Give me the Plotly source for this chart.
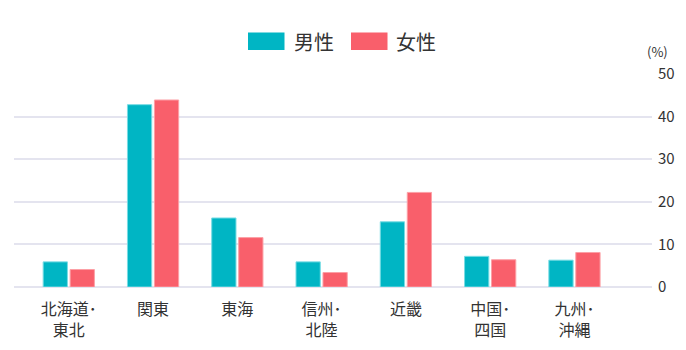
import plotly.graph_objects as go

# Regions (two-line labels use <br>)
regions = ["北海道･<br>東北", "関東", "東海", "信州･<br>北陸", "近畿", "中国･<br>四国", "九州･<br>沖縄"]
male = [5.9, 42.8, 16.2, 5.9, 15.3, 7.2, 6.3]
female = [4.1, 43.9, 11.6, 3.4, 22.2, 6.4, 8.1]
series_names = ["男性", "女性"]
y_ticks = [0, 10, 20, 30, 40, 50]

TEAL = "#00B5C4"
PINK = "#F95F6B"
TEXT = "#333333"
GRID = "#E4E4EF"
FONT = "Noto Sans CJK JP"

fig = go.Figure()
fig.add_trace(go.Bar(
    x=list(range(len(regions))), y=male, name=series_names[0],
    marker=dict(color=TEAL, line=dict(color="rgba(120,220,228,1)", width=1)),
    showlegend=False,
))
fig.add_trace(go.Bar(
    x=list(range(len(regions))), y=female, name=series_names[1],
    marker=dict(color=PINK, line=dict(color="rgba(252,160,166,1)", width=1)),
    showlegend=False,
))

# Plot area geometry (pixels) used to place the legend in paper units
L, R, T, B, W, H = 14, 34, 74, 63, 686, 350
PW, PH = W - L - R, H - T - B


def px(x):
    return (x - L) / PW


def py(y):
    return (H - B - y) / PH


legend_items = [(series_names[0], TEAL, 248, 291.5), (series_names[1], PINK, 351, 394)]
for name, color, x0, tx in legend_items:
    fig.add_shape(type="rect", xref="paper", yref="paper",
                  x0=px(x0), x1=px(x0 + 36.5), y0=py(50), y1=py(32.5),
                  fillcolor=color, line=dict(width=0))
    fig.add_annotation(text=name, xref="paper", yref="paper",
                       x=px(tx), y=py(41.5), xanchor="left", yanchor="middle",
                       showarrow=False, font=dict(size=20, color=TEXT, family=FONT))

fig.add_annotation(text="(%)", xref="paper", yref="paper",
                   x=px(657), y=py(51), xanchor="center", yanchor="middle",
                   showarrow=False, font=dict(size=13, color=TEXT, family=FONT))

fig.update_layout(
    width=W, height=H,
    margin=dict(l=L, r=R, t=T, b=B),
    paper_bgcolor="white", plot_bgcolor="white",
    barmode="group", bargap=0.36, bargroupgap=0.1,
    font=dict(family=FONT, color=TEXT),
    xaxis=dict(
        tickmode="array", tickvals=list(range(len(regions))), ticktext=regions,
        range=[-0.65, 6.92], showgrid=False, zeroline=False, showline=False,
        ticks="", ticklabelstandoff=11, automargin=False,
        tickfont=dict(size=16, color=TEXT, family=FONT),
    ),
    yaxis=dict(
        side="right", range=[0, 50], tickvals=y_ticks,
        showgrid=True, gridcolor=GRID, gridwidth=2,
        zeroline=True, zerolinecolor=GRID, zerolinewidth=2,
        showline=False, ticks="", ticklabelstandoff=5, automargin=False,
        tickfont=dict(size=15, color=TEXT, family=FONT),
    ),
)

fig.write_html("out.html")
